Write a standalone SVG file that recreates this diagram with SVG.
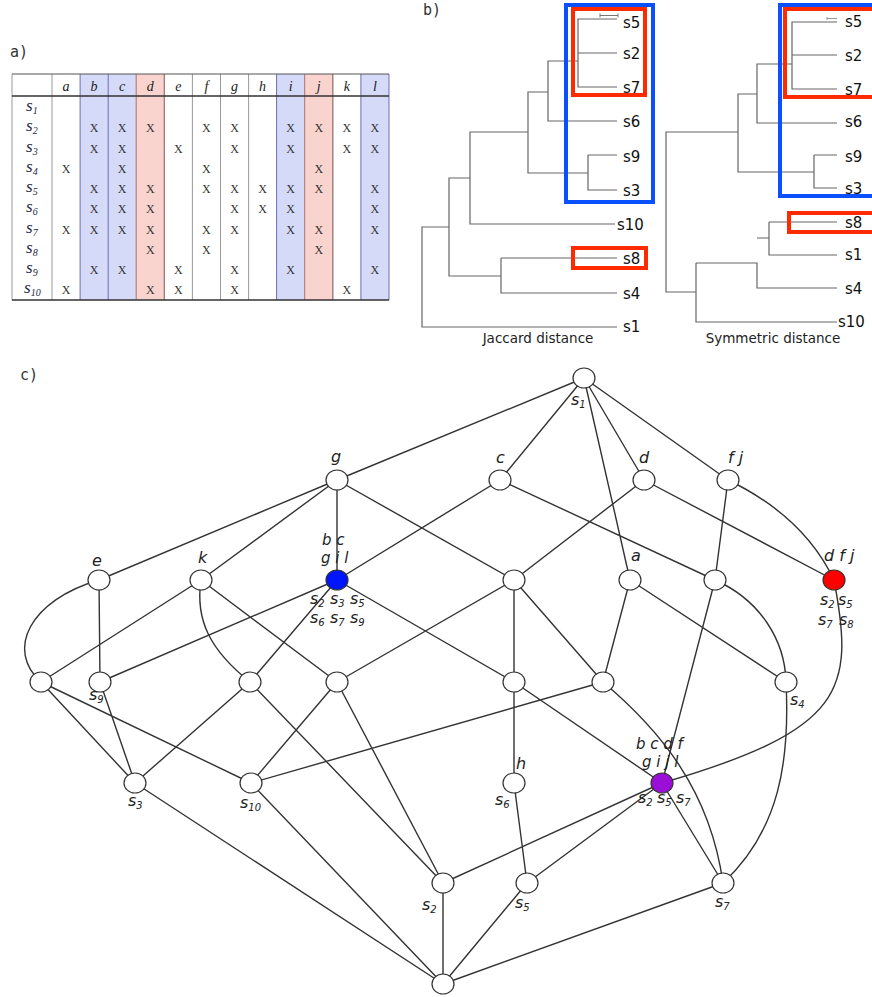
<svg xmlns="http://www.w3.org/2000/svg" width="872" height="997" viewBox="0 0 872 997">
<style>
.pl{font-family:"DejaVu Sans Mono","Liberation Mono",monospace;font-size:15px;fill:#333}
.hd{font-family:"Liberation Serif",serif;font-style:italic;font-size:14px;fill:#222;text-anchor:middle}
.rl{font-family:"Liberation Serif",serif;font-style:italic;font-size:17px;fill:#1e2a48}
.rs{font-size:10px}
.x{font-family:"Liberation Serif",serif;font-size:12px;fill:#333;text-anchor:middle}
.tl{stroke:#999;stroke-width:1;fill:none}
.tree{stroke:#666;stroke-width:1.2;fill:none}
.dl{font-family:"DejaVu Sans",sans-serif;font-size:15px;fill:#111}
.cap{font-family:"DejaVu Sans",sans-serif;font-size:13.5px;fill:#222;text-anchor:middle}
.bb{fill:none;stroke:#0b50ff;stroke-width:4}
.rb{fill:none;stroke:#ff2a00;stroke-width:4}
.e{stroke:#333;stroke-width:1.4;fill:none}
.n{fill:#fff;stroke:#333;stroke-width:1.2}
.lb{font-family:"DejaVu Sans",sans-serif;font-style:italic;font-size:16px;fill:#222}
.lt{font-family:"DejaVu Sans",sans-serif;font-style:italic;font-size:15px;fill:#222}
.sb{font-size:10px}
</style>

<!-- part a: table -->
<g id="table">
<text class="pl" x="10" y="57">a)</text>
<rect x="80.1" y="74" width="56.1" height="226" fill="#d5daf9"/>
<rect x="136.2" y="74" width="28.1" height="226" fill="#f9d3cd"/>
<rect x="276.6" y="74" width="28.1" height="226" fill="#d5daf9"/>
<rect x="304.7" y="74" width="28.1" height="226" fill="#f9d3cd"/>
<rect x="360.9" y="74" width="28.1" height="226" fill="#d5daf9"/>
<path class="tl" d="M12 74V300M52 74V300M164.3 74V300M192.4 74V300M220.5 74V300M248.6 74V300M332.8 74V300"/>
<path stroke="#6a70b0" stroke-width="1" fill="none" d="M80.1 74V300M108.2 74V300M276.6 74V300M360.9 74V300M389 74V300"/>
<path stroke="#a8706a" stroke-width="1" fill="none" d="M136.2 74V300M164.3 74V300M304.7 74V300M332.8 74V300"/>
<path stroke="#555" stroke-width="1" d="M12 74H389"/>
<path stroke="#333" stroke-width="1.5" d="M12 96H389M12 300H389"/>
<text class="hd" x="66" y="91">a</text><text class="hd" x="94.1" y="91">b</text><text class="hd" x="122.2" y="91">c</text><text class="hd" x="150.3" y="91">d</text><text class="hd" x="178.3" y="91">e</text><text class="hd" x="206.4" y="91">f</text><text class="hd" x="234.5" y="91">g</text><text class="hd" x="262.6" y="91">h</text><text class="hd" x="290.7" y="91">i</text><text class="hd" x="318.8" y="91">j</text><text class="hd" x="346.8" y="91">k</text><text class="hd" x="374.9" y="91">l</text>
<text class="rl" x="26" y="111">s<tspan class="rs" dy="3">1</tspan></text>
<text class="rl" x="26" y="131.3">s<tspan class="rs" dy="3">2</tspan></text>
<text class="rl" x="26" y="151.5">s<tspan class="rs" dy="3">3</tspan></text>
<text class="rl" x="26" y="171.8">s<tspan class="rs" dy="3">4</tspan></text>
<text class="rl" x="26" y="192">s<tspan class="rs" dy="3">5</tspan></text>
<text class="rl" x="26" y="212.3">s<tspan class="rs" dy="3">6</tspan></text>
<text class="rl" x="26" y="232.5">s<tspan class="rs" dy="3">7</tspan></text>
<text class="rl" x="26" y="252.8">s<tspan class="rs" dy="3">8</tspan></text>
<text class="rl" x="26" y="273">s<tspan class="rs" dy="3">9</tspan></text>
<text class="rl" x="24" y="293.3">s<tspan class="rs" dy="3">10</tspan></text>
<!-- s2 -->
<text class="x" x="94.1" y="132.3">X</text><text class="x" x="122.2" y="132.3">X</text><text class="x" x="150.3" y="132.3">X</text><text class="x" x="206.4" y="132.3">X</text><text class="x" x="234.5" y="132.3">X</text><text class="x" x="290.7" y="132.3">X</text><text class="x" x="318.8" y="132.3">X</text><text class="x" x="346.8" y="132.3">X</text><text class="x" x="374.9" y="132.3">X</text>
<!-- s3 -->
<text class="x" x="94.1" y="152.5">X</text><text class="x" x="122.2" y="152.5">X</text><text class="x" x="178.3" y="152.5">X</text><text class="x" x="234.5" y="152.5">X</text><text class="x" x="290.7" y="152.5">X</text><text class="x" x="346.8" y="152.5">X</text><text class="x" x="374.9" y="152.5">X</text>
<!-- s4 -->
<text class="x" x="66" y="172.8">X</text><text class="x" x="122.2" y="172.8">X</text><text class="x" x="206.4" y="172.8">X</text><text class="x" x="318.8" y="172.8">X</text>
<!-- s5 -->
<text class="x" x="94.1" y="193">X</text><text class="x" x="122.2" y="193">X</text><text class="x" x="150.3" y="193">X</text><text class="x" x="206.4" y="193">X</text><text class="x" x="234.5" y="193">X</text><text class="x" x="262.6" y="193">X</text><text class="x" x="290.7" y="193">X</text><text class="x" x="318.8" y="193">X</text><text class="x" x="374.9" y="193">X</text>
<!-- s6 -->
<text class="x" x="94.1" y="213.3">X</text><text class="x" x="122.2" y="213.3">X</text><text class="x" x="150.3" y="213.3">X</text><text class="x" x="234.5" y="213.3">X</text><text class="x" x="262.6" y="213.3">X</text><text class="x" x="290.7" y="213.3">X</text><text class="x" x="374.9" y="213.3">X</text>
<!-- s7 -->
<text class="x" x="66" y="233.5">X</text><text class="x" x="94.1" y="233.5">X</text><text class="x" x="122.2" y="233.5">X</text><text class="x" x="150.3" y="233.5">X</text><text class="x" x="206.4" y="233.5">X</text><text class="x" x="234.5" y="233.5">X</text><text class="x" x="290.7" y="233.5">X</text><text class="x" x="318.8" y="233.5">X</text><text class="x" x="374.9" y="233.5">X</text>
<!-- s8 -->
<text class="x" x="150.3" y="253.8">X</text><text class="x" x="206.4" y="253.8">X</text><text class="x" x="318.8" y="253.8">X</text>
<!-- s9 -->
<text class="x" x="94.1" y="274">X</text><text class="x" x="122.2" y="274">X</text><text class="x" x="178.3" y="274">X</text><text class="x" x="234.5" y="274">X</text><text class="x" x="290.7" y="274">X</text><text class="x" x="374.9" y="274">X</text>
<!-- s10 -->
<text class="x" x="66" y="294.3">X</text><text class="x" x="150.3" y="294.3">X</text><text class="x" x="178.3" y="294.3">X</text><text class="x" x="234.5" y="294.3">X</text><text class="x" x="346.8" y="294.3">X</text>
</g>

<!-- part b: dendrograms -->
<g id="dendro-jaccard">
<text class="pl" x="423" y="15">b)</text>
<path class="tree" d="M617 19H578V87H617M578 53H617M578 61H548V121H617M548 92H528V173H588M588 155H617M588 155V190H617M528 132H470V224H615M470 178H449V276H501M501 258H617M501 258V293H617M449 227H422V327H617"/>
<path stroke="#777" stroke-width="1" fill="none" d="M600 15.5H618M600 13.5V17.5M618 13.5V17.5"/>
<text class="dl" x="623" y="28">s5</text>
<text class="dl" x="623" y="59">s2</text>
<text class="dl" x="623" y="93">s7</text>
<text class="dl" x="623" y="127">s6</text>
<text class="dl" x="623" y="162">s9</text>
<text class="dl" x="623" y="196">s3</text>
<text class="dl" x="617" y="230">s10</text>
<text class="dl" x="623" y="264">s8</text>
<text class="dl" x="623" y="299">s4</text>
<text class="dl" x="623" y="332">s1</text>
<rect class="bb" x="566" y="5" width="87" height="197"/>
<rect class="rb" x="573" y="9" width="72" height="86"/>
<rect class="rb" x="573" y="248" width="73" height="20"/>
<text class="cap" x="538" y="343">Jaccard distance</text>
</g>
<g id="dendro-symmetric">
<path class="tree" d="M837 22H792V89H837M792 55H837M792 64H757V123H837M757 94H738V172H814M814 155H837M814 155V188H837M738 132H666V292H696M696 263V322H837M696 263H757V288H837M757 238H769V255H837M769 222H837M769 222V238"/>
<path stroke="#999" stroke-width="1" fill="none" d="M827 18.5H837M827 17V20"/>
<text class="dl" x="845" y="27">s5</text>
<text class="dl" x="845" y="61">s2</text>
<text class="dl" x="845" y="95">s7</text>
<text class="dl" x="845" y="127">s6</text>
<text class="dl" x="845" y="162">s9</text>
<text class="dl" x="845" y="194">s3</text>
<text class="dl" x="845" y="228">s8</text>
<text class="dl" x="845" y="260">s1</text>
<text class="dl" x="845" y="294">s4</text>
<text class="dl" x="838" y="327">s10</text>
<rect class="bb" x="780" y="5" width="100" height="191"/>
<rect class="rb" x="785" y="9" width="95" height="88"/>
<rect class="rb" x="789" y="213" width="90" height="19"/>
<text class="cap" x="773" y="343">Symmetric distance</text>
</g>

<!-- part c: lattice -->
<text class="pl" x="20" y="380">c)</text>
<g id="edges">
<path class="e" d="M584 378L337 480M584 378L500 480M584 378L630 580M584 378L644 480M584 378L728 480
M337 480L99 580M337 480L201 580M337 480L337 580M337 480L514 580
M500 480L337 580M500 480L715 580
M644 480L514 580M644 480L834 580
M728 480L715 580
M99 580L100 682M201 580L41 682M201 580L337 682
M337 580L100 682M337 580L250 682M337 580L514 682
M514 580L337 682M514 580L514 682M514 580L603 682
M630 580L603 682M630 580L786 682
M715 580L662 783
M41 682L135 783M41 682L251 783
M100 682L135 783
M250 682L135 783M250 682L443 883
M337 682L251 783M337 682L443 883
M514 682L514 783M514 682L662 783
M603 682L251 783
M135 783L443 984M251 783L443 984
M514 783L527 883
M662 783L443 883M662 783L527 883M662 783L723 883
M443 883L443 984M527 883L443 984M723 883L443 984"/>
<path class="e" d="M728 480C780 505 815 540 834 580"/>
<path class="e" d="M99 580C30 600 5 650 41 682"/>
<path class="e" d="M201 580C195 620 210 650 250 682"/>
<path class="e" d="M715 580C760 600 785 640 786 682"/>
<path class="e" d="M834 580C855 690 845 730 662 783"/>
<path class="e" d="M786 682C790 760 780 830 723 883"/>
<path class="e" d="M603 682C660 730 710 790 723 883"/>
</g>

<g id="n-top"><ellipse class="n" cx="584" cy="378" rx="11" ry="10"/><text class="lb" x="571" y="405">s<tspan class="sb" dy="3">1</tspan></text></g>
<g id="n-g"><ellipse class="n" cx="337" cy="480" rx="11" ry="10"/><text class="lb" x="331" y="462">g</text></g>
<g id="n-c"><ellipse class="n" cx="500" cy="480" rx="11" ry="10"/><text class="lb" x="496" y="463">c</text></g>
<g id="n-d"><ellipse class="n" cx="644" cy="480" rx="11" ry="10"/><text class="lb" x="639" y="463">d</text></g>
<g id="n-fj"><ellipse class="n" cx="728" cy="480" rx="11" ry="10"/><text class="lb" x="728" y="463">f j</text></g>
<g id="n-e"><ellipse class="n" cx="99" cy="580" rx="11" ry="10"/><text class="lb" x="92" y="566">e</text></g>
<g id="n-k"><ellipse class="n" cx="201" cy="580" rx="11" ry="10"/><text class="lb" x="198" y="563">k</text></g>
<g id="n-bcgil">
<ellipse cx="337" cy="580" rx="11" ry="10" fill="#0015ff" stroke="#333" stroke-width="1.2"/>
<text class="lt" x="322" y="545">b c</text>
<text class="lt" x="321" y="563">g i l</text>
<text class="lb" x="310" y="604">s<tspan class="sb" dy="3">2</tspan></text>
<text class="lb" x="330" y="604">s<tspan class="sb" dy="3">3</tspan></text>
<text class="lb" x="350" y="604">s<tspan class="sb" dy="3">5</tspan></text>
<text class="lb" x="310" y="623">s<tspan class="sb" dy="3">6</tspan></text>
<text class="lb" x="330" y="623">s<tspan class="sb" dy="3">7</tspan></text>
<text class="lb" x="350" y="623">s<tspan class="sb" dy="3">9</tspan></text>
</g>
<g id="n-m1"><ellipse class="n" cx="514" cy="580" rx="11" ry="10"/></g>
<g id="n-a"><ellipse class="n" cx="630" cy="580" rx="11" ry="10"/><text class="lb" x="631" y="561">a</text></g>
<g id="n-m2"><ellipse class="n" cx="715" cy="580" rx="11" ry="10"/></g>
<g id="n-dfj">
<ellipse cx="834" cy="580" rx="11" ry="10" fill="#ff0000" stroke="#333" stroke-width="1.2"/>
<text class="lb" x="824" y="561">d f j</text>
<text class="lb" x="820" y="605">s<tspan class="sb" dy="3">2</tspan></text>
<text class="lb" x="838" y="605">s<tspan class="sb" dy="3">5</tspan></text>
<text class="lb" x="818" y="625">s<tspan class="sb" dy="3">7</tspan></text>
<text class="lb" x="839" y="625">s<tspan class="sb" dy="3">8</tspan></text>
</g>
<g id="n-r1"><ellipse class="n" cx="41" cy="682" rx="11" ry="10"/></g>
<g id="n-s9"><ellipse class="n" cx="100" cy="682" rx="11" ry="10"/><text class="lb" x="89" y="700">s<tspan class="sb" dy="3">9</tspan></text></g>
<g id="n-r3"><ellipse class="n" cx="250" cy="682" rx="11" ry="10"/></g>
<g id="n-r4"><ellipse class="n" cx="337" cy="682" rx="11" ry="10"/></g>
<g id="n-r5"><ellipse class="n" cx="514" cy="682" rx="11" ry="10"/></g>
<g id="n-r6"><ellipse class="n" cx="603" cy="682" rx="11" ry="10"/></g>
<g id="n-s4"><ellipse class="n" cx="786" cy="682" rx="11" ry="10"/><text class="lb" x="790" y="705">s<tspan class="sb" dy="3">4</tspan></text></g>
<g id="n-s3"><ellipse class="n" cx="135" cy="783" rx="11" ry="10"/><text class="lb" x="128" y="806">s<tspan class="sb" dy="3">3</tspan></text></g>
<g id="n-s10"><ellipse class="n" cx="251" cy="783" rx="11" ry="10"/><text class="lb" x="240" y="808">s<tspan class="sb" dy="3">10</tspan></text></g>
<g id="n-h"><ellipse class="n" cx="514" cy="783" rx="11" ry="10"/><text class="lb" x="516" y="769">h</text><text class="lb" x="495" y="805">s<tspan class="sb" dy="3">6</tspan></text></g>
<g id="n-bcdfgijl">
<ellipse cx="662" cy="783" rx="11" ry="10" fill="#9a0fd6" stroke="#333" stroke-width="1.2"/>
<text class="lt" x="636" y="749">b c d f</text>
<text class="lt" x="642" y="767">g i j l</text>
<text class="lb" x="638" y="803">s<tspan class="sb" dy="3">2</tspan></text>
<text class="lb" x="657" y="803">s<tspan class="sb" dy="3">5</tspan></text>
<text class="lb" x="676" y="803">s<tspan class="sb" dy="3">7</tspan></text>
</g>
<g id="n-s2"><ellipse class="n" cx="443" cy="883" rx="11" ry="10"/><text class="lb" x="422" y="910">s<tspan class="sb" dy="3">2</tspan></text></g>
<g id="n-s5"><ellipse class="n" cx="527" cy="883" rx="11" ry="10"/><text class="lb" x="515" y="908">s<tspan class="sb" dy="3">5</tspan></text></g>
<g id="n-s7"><ellipse class="n" cx="723" cy="883" rx="11" ry="10"/><text class="lb" x="715" y="907">s<tspan class="sb" dy="3">7</tspan></text></g>
<g id="n-bottom"><ellipse class="n" cx="443" cy="984" rx="11" ry="10"/></g>
</svg>
